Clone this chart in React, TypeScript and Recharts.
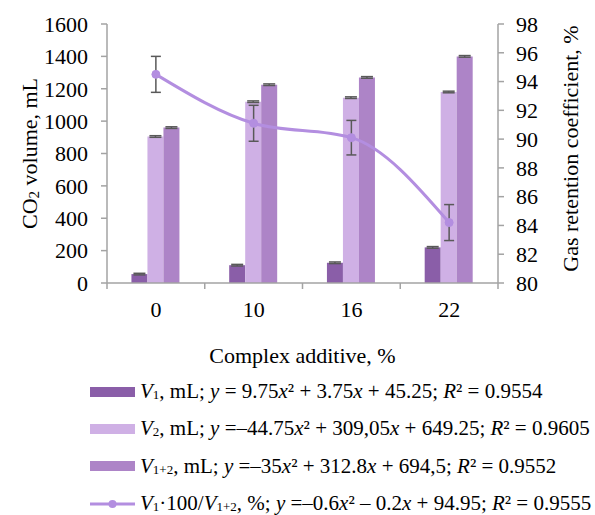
import React from "react";
import {
  ComposedChart,
  Bar,
  Line,
  XAxis,
  YAxis,
  ErrorBar,
  Legend,
} from "recharts";

// Значения
const categories = ["0", "10", "16", "22"];
const v1 = [55, 110, 125, 220];
const v2 = [905, 1120, 1145, 1180];
const v12 = [960, 1225, 1270, 1400];
const barErr1 = [5, 5, 5, 5];
const barErr2 = [5, 5, 5, 5];
const barErr12 = [5, 5, 5, 5];
const retention = [94.5, 91.1, 90.1, 84.2];
const retentionErr = [1.25, 1.25, 1.2, 1.25];
const leftTicks = [0, 200, 400, 600, 800, 1000, 1200, 1400, 1600];
const rightTicks = [80, 82, 84, 86, 88, 90, 92, 94, 96, 98];

const data = categories.map((c, i) => ({
  cat: c,
  v1: v1[i],
  v2: v2[i],
  v12: v12[i],
  e1: barErr1[i],
  e2: barErr2[i],
  e12: barErr12[i],
  ret: retention[i],
  retErr: retentionErr[i],
}));

const FONT = "Liberation Serif, Times New Roman, serif";
const FS = 22;
const AXIS = "#a3a3a3";
const ERR = "#595959";
const C_V1 = "#8a5ea8";
const C_V2 = "#cfb0e5";
const C_V12 = "#ad84c7";
const C_LINE = "#b38ee0";
const TICK_SIZE = 6;
const X_TICK_MARGIN = 12;

// тики оси X стоят на границах категорий, подписи в центре
const CategoryTick = (props: any) => {
  const { x, y, payload, index, visibleTicksCount } = props;
  const half = payload?.offset ?? 0;
  const axisY = y - TICK_SIZE - X_TICK_MARGIN;
  return (
    <g>
      <line x1={x - half} x2={x - half} y1={axisY} y2={axisY + TICK_SIZE} stroke={AXIS} strokeWidth={1.5} />
      {index === visibleTicksCount - 1 && (
        <line x1={x + half} x2={x + half} y1={axisY} y2={axisY + TICK_SIZE} stroke={AXIS} strokeWidth={1.5} />
      )}
      <text x={x} y={y} dy="0.71em" textAnchor="middle" fill="#000" fontSize={FS} fontFamily={FONT}>
        {payload.value}
      </text>
    </g>
  );
};

const LeftTitle = (props: any) => {
  const vb = props.viewBox || { x: 0, y: 0, height: 0 };
  const cx = vb.x + 29;
  const cy = vb.y + vb.height / 2;
  return (
    <text x={cx} y={cy} transform={`rotate(-90 ${cx} ${cy})`} textAnchor="middle" dominantBaseline="central" fontSize={FS} fontFamily={FONT} fill="#000">
      CO<tspan fontSize={15} dy={5}>2</tspan>
      <tspan dy={-5}> volume, mL</tspan>
    </text>
  );
};

const RightTitle = (props: any) => {
  const vb = props.viewBox || { x: 0, y: 0, height: 0 };
  const cx = vb.x + 72;
  const cy = vb.y + vb.height / 2 - 5;
  return (
    <text x={cx} y={cy} transform={`rotate(-90 ${cx} ${cy})`} textAnchor="middle" dominantBaseline="central" fontSize={FS} fontFamily={FONT} fill="#000">
      Gas retention coefficient, %
    </text>
  );
};

const sub = { fontSize: "0.62em", verticalAlign: "-0.1em" } as const;

const legendRows = [
  {
    kind: "bar",
    color: C_V1,
    text: (
      <>
        <i>V</i><span style={sub}>1</span>, mL; <i>y</i> = 9.75<i>x</i>² + 3.75<i>x</i> + 45.25; <i>R</i>² = 0.9554
      </>
    ),
  },
  {
    kind: "bar",
    color: C_V2,
    text: (
      <>
        <i>V</i><span style={sub}>2</span>, mL; <i>y</i> =–44.75<i>x</i>² + 309,05<i>x</i> + 649.25; <i>R</i>² = 0.9605
      </>
    ),
  },
  {
    kind: "bar",
    color: C_V12,
    text: (
      <>
        <i>V</i><span style={sub}>1+2</span>, mL; <i>y</i> =–35<i>x</i>² + 312.8<i>x</i> + 694,5; <i>R</i>² = 0.9552
      </>
    ),
  },
  {
    kind: "line",
    color: C_LINE,
    text: (
      <>
        <i>V</i><span style={sub}>1</span>·100/<i>V</i><span style={sub}>1+2</span>, %; <i>y</i> =–0.6<i>x</i>² – 0.2<i>x</i> + 94.95; <i>R</i>² = 0.9555
      </>
    ),
  },
];

const LegendBox = () => (
  <div style={{ fontFamily: FONT, fontSize: 21, color: "#000" }}>
    {legendRows.map((r, i) => (
      <div key={i} style={{ display: "flex", alignItems: "center", height: 37.3, whiteSpace: "nowrap" }}>
        <svg width={50} height={12} style={{ flex: "none" }}>
          {r.kind === "bar" ? (
            <rect x={0} y={1} width={45} height={10} fill={r.color} />
          ) : (
            <>
              <line x1={0} x2={45} y1={6} y2={6} stroke={r.color} strokeWidth={3} />
              <circle cx={22.5} cy={6} r={4} fill={r.color} />
            </>
          )}
        </svg>
        <span>{r.text}</span>
      </div>
    ))}
  </div>
);

export default function App() {
  return (
    <div style={{ position: "absolute", left: 0, top: 0, width: 595, height: 515, background: "#fff", fontFamily: FONT }}>
      <ComposedChart
        width={595}
        height={515}
        data={data}
        margin={{ top: 24, right: 0, left: 0, bottom: 142 }}
        barGap={0}
        barCategoryGap="25%"
      >
        <XAxis
          dataKey="cat"
          height={90}
          tickLine={false}
          tickSize={TICK_SIZE}
          tickMargin={X_TICK_MARGIN}
          axisLine={{ stroke: AXIS, strokeWidth: 1.5 }}
          tick={<CategoryTick />}
          interval={0}
          label={{
            value: "Complex additive, %",
            position: "insideBottom",
            offset: 10,
            fontSize: FS,
            fontFamily: FONT,
            fill: "#000",
          }}
        />
        <YAxis
          yAxisId="left"
          width={107}
          domain={[0, 1600]}
          ticks={leftTicks}
          interval={0}
          tickSize={TICK_SIZE}
          tickMargin={13}
          axisLine={{ stroke: AXIS, strokeWidth: 1.5 }}
          tickLine={{ stroke: AXIS, strokeWidth: 1.5 }}
          tick={{ fill: "#000", fontSize: FS, fontFamily: FONT }}
          label={<LeftTitle />}
        />
        <YAxis
          yAxisId="right"
          orientation="right"
          width={97}
          domain={[80, 98]}
          ticks={rightTicks}
          interval={0}
          tickSize={TICK_SIZE}
          tickMargin={12}
          axisLine={{ stroke: AXIS, strokeWidth: 1.5 }}
          tickLine={{ stroke: AXIS, strokeWidth: 1.5 }}
          tick={{ fill: "#000", fontSize: FS, fontFamily: FONT }}
          label={<RightTitle />}
        />
        <Legend
          layout="horizontal"
          verticalAlign="middle"
          align="center"
          content={<LegendBox />}
          wrapperStyle={{ top: 373, left: 90, width: 505 }}
        />
        <Bar yAxisId="left" dataKey="v1" fill={C_V1} isAnimationActive={false}>
          <ErrorBar dataKey="e1" width={6} stroke={ERR} strokeWidth={1.5} />
        </Bar>
        <Bar yAxisId="left" dataKey="v2" fill={C_V2} isAnimationActive={false}>
          <ErrorBar dataKey="e2" width={6} stroke={ERR} strokeWidth={1.5} />
        </Bar>
        <Bar yAxisId="left" dataKey="v12" fill={C_V12} isAnimationActive={false}>
          <ErrorBar dataKey="e12" width={6} stroke={ERR} strokeWidth={1.5} />
        </Bar>
        <Line
          yAxisId="right"
          type="monotone"
          dataKey="ret"
          stroke={C_LINE}
          strokeWidth={3}
          dot={{ r: 4, fill: C_LINE, stroke: C_LINE, strokeWidth: 1 }}
          activeDot={false}
          isAnimationActive={false}
        >
          <ErrorBar dataKey="retErr" width={5} stroke={ERR} strokeWidth={1.5} />
        </Line>
      </ComposedChart>
    </div>
  );
}
